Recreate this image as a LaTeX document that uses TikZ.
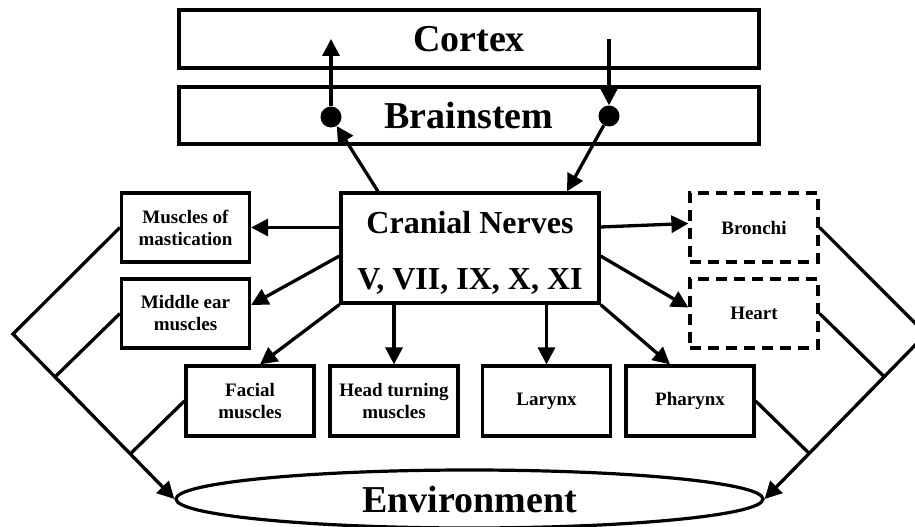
\documentclass[tikz,border=0pt]{standalone}
\usepackage{fontspec}
\setmainfont{Liberation Serif}
\usetikzlibrary{arrows.meta,shapes.geometric,calc}
\begin{document}
\begin{tikzpicture}[x=1pt,y=-1pt,
  box/.style={draw,line width=3.2pt,inner sep=0pt,align=center,font=\fontsize{19}{22}\selectfont\bfseries,minimum width=128pt,minimum height=70pt},
  dbox/.style={box,dash pattern=on 11pt off 7pt},
  big/.style={draw,line width=3.2pt,inner sep=0pt,font=\fontsize{38}{44}\selectfont\bfseries,minimum width=580pt},
  dot/.style={circle,fill,inner sep=0pt,minimum size=21pt},
  arr/.style={line width=3.3pt,-{Triangle[length=17pt,width=17pt]}},
  ln/.style={line width=3.3pt},
  ]
\useasboundingbox (0,0) rectangle (915,527);
% layers
\node[big,minimum height=58pt] (cortex) at (469,39) {Cortex};
\node[big,minimum height=57pt] (brain) at (469,115.5) {Brainstem};
\node[draw,line width=3.2pt,inner sep=0pt,align=center,font=\fontsize{32}{56}\selectfont\bfseries,minimum width=258pt,minimum height=110pt] (cn) at (470,248) {\rule{0pt}{31pt}Cranial Nerves\\V, VII, IX, X, XI};
% dots
\node[dot] (dl) at (331,117) {};
\node[dot] (dr) at (609,116) {};
% targets
\node[box,minimum height=69pt] (mm) at (185.5,227.5) {Muscles of\\mastication};
\node[box,minimum height=69pt] (me) at (185.5,313.5) {Middle ear\\muscles};
\node[box] (fm) at (250,401) {Facial\\muscles};
\node[box] (ht) at (394,401) {Head turning\\muscles};
\node[box] (lx) at (546.5,401) {Larynx};
\node[box] (ph) at (690,401) {Pharynx};
\node[dbox,minimum height=69pt] (br) at (754,227.5) {Bronchi};
\node[dbox,minimum height=69pt] (he) at (754,313.5) {Heart};
\node[ellipse,draw,line width=3.2pt,inner sep=0pt,minimum width=587pt,minimum height=58pt,font=\fontsize{38}{44}\selectfont\bfseries] (env) at (469.5,499) {Environment};
% vertical pathways
\draw[arr] (dl) -- (dl |- cortex.center);
\draw[arr] (dr |- cortex.center) -- (dr);
\draw[arr] ($(cn.north)+(-92,0)$) -- (dl);
\draw[arr] (dr) -- ($(cn.north)+(97,0)$);
% cranial nerve outputs
\draw[arr] (cn.west |- mm.east) -- (mm.east);
\draw[arr] ($(cn.west)+(0,8)$) -- ($(me.east)+(0,-8.5)$);
\draw[arr] (cn.south west) -- ($(fm.north)+(10,0)$);
\draw[arr] (cn.south -| ht.north) -- (ht.north);
\draw[arr] (cn.south -| lx.north) -- (lx.north);
\draw[arr] (cn.south east) -- ($(ph.north)+(-20,0)$);
\draw[arr] ($(cn.east)+(0,8)$) -- ($(he.west)+(0,-6)$);
\draw[arr] ($(cn.east)+(0,-21)$) -- ($(br.west)+(0,-4)$);
% feedback to environment
\coordinate (aL) at (13,334);
\coordinate (aR) at (926,334);
\draw[arr] (mm.west) -- (aL) -- (env.west);
\draw[ln] (me.west) -- ($(aL)!(me.west)!(env.west)$);
\draw[ln] (fm.west) -- ($(aL)!(fm.west)!(env.west)$);
\draw[arr] (br.east) -- (aR) -- (env.east);
\draw[ln] (he.east) -- ($(aR)!(he.east)!(env.east)$);
\draw[ln] (ph.east) -- ($(aR)!(ph.east)!(env.east)$);
\end{tikzpicture}
\end{document}
